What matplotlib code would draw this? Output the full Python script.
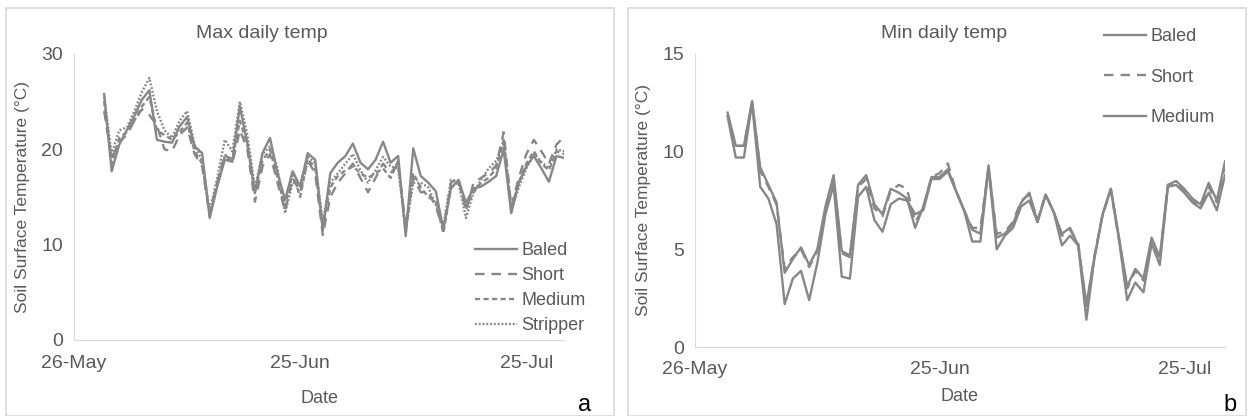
import numpy as np
import matplotlib
matplotlib.use("Agg")
import matplotlib.pyplot as plt
from matplotlib.patches import Rectangle

# daily dates, 30 May to 30 Jul
dates = np.arange(np.datetime64("2017-05-30"), np.datetime64("2017-07-31"))
tick_dates = np.array(["2017-05-26", "2017-06-25", "2017-07-25"], dtype="datetime64[D]")
tick_labels = ["26-May", "25-Jun", "25-Jul"]

# panel a: max daily temp
max_baled = [25.8, 17.7, 20.5, 22.0, 23.5, 25.2, 26.2, 21.0, 20.8, 20.7, 22.4, 23.4, 20.3, 19.6,
             12.8, 16.1, 18.9, 18.7, 24.5, 20.6, 15.4, 19.6, 21.2, 17.5, 14.7, 17.7, 16.1, 19.6,
             18.9, 11.5, 17.5, 18.6, 19.3, 20.6, 18.6, 17.9, 18.9, 20.8, 18.6, 19.3, 10.9, 20.1,
             17.2, 16.5, 15.6, 11.6, 15.9, 16.8, 14.4, 15.9, 16.1, 16.6, 17.2, 20.0, 13.3, 16.5,
             18.2, 19.3, 18.0, 16.6, 19.3, 19.1]
max_short = [24.0, 19.0, 20.8, 21.5, 23.0, 24.2, 23.6, 22.5, 20.0, 19.8, 21.5, 22.3, 19.5, 18.2,
             13.0, 16.5, 19.5, 18.5, 22.0, 20.0, 14.5, 18.2, 19.5, 16.5, 13.5, 17.0, 15.5, 18.8,
             17.5, 11.0, 15.0, 16.5, 17.5, 18.5, 17.0, 15.5, 17.0, 18.5, 17.5, 18.5, 12.0, 17.0,
             15.5, 15.5, 14.0, 11.5, 16.5, 17.0, 13.5, 16.5, 17.0, 17.5, 18.3, 21.8, 14.0, 17.0,
             19.5, 21.0, 19.8, 18.5, 20.5, 21.3]
max_medium = [25.0, 18.5, 21.2, 21.8, 23.0, 24.5, 25.5, 22.0, 21.5, 21.0, 21.8, 22.8, 19.8, 18.5,
              13.2, 16.5, 19.3, 19.0, 23.0, 20.5, 15.5, 18.8, 20.0, 17.0, 14.0, 17.5, 15.0, 19.0,
              18.0, 11.8, 16.0, 17.2, 17.8, 18.2, 17.5, 17.0, 17.5, 18.0, 17.0, 18.8, 11.5, 17.5,
              16.0, 15.0, 14.5, 11.2, 16.0, 16.5, 14.0, 15.5, 16.5, 17.0, 18.0, 21.0, 13.8, 16.5,
              18.5, 19.8, 18.5, 17.8, 19.8, 19.5]
max_stripper = [25.5, 19.5, 22.0, 22.3, 24.0, 26.0, 27.5, 24.0, 22.0, 21.2, 23.0, 24.0, 20.5, 18.8,
                13.5, 17.0, 21.0, 19.8, 25.0, 21.5, 16.0, 19.5, 20.3, 18.0, 13.3, 16.5, 16.3, 19.3,
                18.5, 12.5, 16.5, 17.5, 18.5, 19.5, 17.8, 16.5, 17.8, 19.2, 18.2, 18.0, 11.5, 16.5,
                16.5, 16.0, 14.2, 12.0, 16.8, 16.5, 12.8, 15.5, 16.8, 18.0, 18.8, 20.5, 13.5, 16.0,
                18.0, 19.5, 18.7, 18.0, 20.0, 19.8]

# panel b: min daily temp
min_baled = [12.0, 10.3, 10.3, 12.6, 9.2, 8.3, 7.4, 3.8, 4.5, 5.1, 4.2, 5.0, 7.2, 8.8, 4.9, 4.7,
             8.3, 8.8, 7.3, 6.8, 8.1, 7.9, 7.6, 6.1, 7.2, 8.7, 8.7, 9.1, 8.0, 7.0, 6.0, 5.8, 9.3,
             5.6, 5.8, 6.3, 7.4, 7.9, 6.4, 7.8, 6.9, 5.8, 6.1, 5.2, 2.2, 4.6, 6.8, 8.1, 5.6, 3.1,
             4.0, 3.5, 5.6, 4.6, 8.3, 8.5, 8.1, 7.6, 7.3, 8.4, 7.5, 9.5]
min_short = [11.9, 10.3, 10.3, 12.5, 9.0, 8.2, 7.3, 4.0, 4.6, 5.0, 4.1, 4.9, 7.0, 8.5, 4.8, 4.6,
             8.2, 8.6, 7.1, 6.7, 8.0, 8.3, 8.1, 6.4, 7.1, 8.7, 8.9, 9.4, 8.0, 7.0, 6.1, 6.1, 9.1,
             5.8, 5.9, 6.4, 7.5, 7.8, 6.5, 7.8, 6.9, 5.7, 6.0, 5.3, 2.0, 4.7, 6.8, 8.0, 5.5, 3.0,
             3.9, 3.4, 5.4, 4.5, 8.3, 8.4, 8.0, 7.5, 7.2, 8.2, 7.4, 9.3]
min_medium = [11.8, 9.7, 9.7, 12.5, 8.2, 7.6, 6.3, 2.2, 3.5, 3.9, 2.4, 4.3, 6.8, 8.3, 3.6, 3.5,
              7.7, 8.2, 6.5, 5.9, 7.3, 7.6, 7.5, 6.8, 7.0, 8.6, 8.6, 9.0, 8.0, 7.0, 5.4, 5.4, 9.2,
              5.0, 5.7, 6.1, 7.2, 7.5, 6.4, 7.8, 6.9, 5.2, 5.7, 5.2, 1.4, 4.6, 6.8, 8.1, 5.5, 2.4,
              3.3, 2.8, 5.3, 4.2, 8.2, 8.3, 7.9, 7.4, 7.1, 7.9, 7.0, 8.8]

gray = "#878787"
text_gray = "#595959"
axis_gray = "#d9d9d9"

plt.rcParams["font.family"] = ["Liberation Sans", "DejaVu Sans"]

fig = plt.figure(figsize=(12.48, 4.16), dpi=100)

# panel borders
fig.patches.append(Rectangle((6 / 1248, 0.0), 608 / 1248, 1 - 8 / 416, transform=fig.transFigure,
                             fill=False, edgecolor=axis_gray, linewidth=1.2))
fig.patches.append(Rectangle((628 / 1248, 0.0), 618 / 1248, 1 - 8 / 416, transform=fig.transFigure,
                             fill=False, edgecolor=axis_gray, linewidth=1.2))

ax1 = fig.add_axes([74 / 1248, 1 - 340 / 416, 490 / 1248, 286 / 416])
ax2 = fig.add_axes([695 / 1248, 1 - 347 / 416, 530 / 1248, 293 / 416])

ax1.plot(dates, max_baled, color=gray, lw=1.7, ls="-", label="Baled")
ax1.plot(dates, max_short, color=gray, lw=1.7, ls=(0, (4, 3)), label="Short")
ax1.plot(dates, max_medium, color=gray, lw=1.7, ls=(0, (2.2, 1.4)), label="Medium")
ax1.plot(dates, max_stripper, color=gray, lw=1.7, ls=(0, (0.8, 0.8)), label="Stripper")

ax2.plot(dates, min_baled, color=gray, lw=1.7, ls="-", label="Baled")
ax2.plot(dates, min_short, color=gray, lw=1.7, ls=(0, (4, 3)), label="Short")
ax2.plot(dates, min_medium, color=gray, lw=1.7, ls="-", label="Medium")

for ax, ymax, step in [(ax1, 30, 10), (ax2, 15, 5)]:
    ax.set_xlim(np.datetime64("2017-05-26"), np.datetime64("2017-07-30"))
    ax.set_ylim(0, ymax)
    ax.set_yticks(np.arange(0, ymax + 1, step))
    ax.set_xticks(tick_dates)
    ax.set_xticklabels(tick_labels)
    for s in ["top", "right"]:
        ax.spines[s].set_visible(False)
    ax.spines["left"].set_color(axis_gray)
    ax.spines["bottom"].set_color(axis_gray)
    ax.tick_params(length=0, labelsize=14, labelcolor=text_gray, pad=8)
    ax.set_ylabel("Soil Surface Temperature (°C)", fontsize=12.5, color=text_gray, labelpad=8)

ax1.tick_params(axis="x", pad=11)
ax2.tick_params(axis="x", pad=10)
ax1.set_xlabel("Date", fontsize=13, color=text_gray, labelpad=13)
ax2.set_xlabel("Date", fontsize=13, color=text_gray, labelpad=7)

fig.text(262 / 1248, 1 - 33 / 416, "Max daily temp", ha="center", va="center", fontsize=14, color=text_gray)
fig.text(944 / 1248, 1 - 33 / 416, "Min daily temp", ha="center", va="center", fontsize=14, color=text_gray)

ax1.legend(loc="upper left", bbox_to_anchor=(466 / 1248, 1 - 233 / 416), bbox_transform=fig.transFigure,
           frameon=False, fontsize=13, labelcolor=text_gray, handlelength=2.3, handletextpad=0.25,
           labelspacing=0.45, borderpad=0)
ax2.legend(loc="upper left", bbox_to_anchor=(1095 / 1248, 1 - 19 / 416), bbox_transform=fig.transFigure,
           frameon=False, fontsize=13, labelcolor=text_gray, handlelength=2.3, handletextpad=0.25,
           labelspacing=1.3, borderpad=0)

fig.text(585 / 1248, 1 - 405 / 416, "a", ha="center", va="center", fontsize=17, color="black")
fig.text(1230 / 1248, 1 - 405 / 416, "b", ha="center", va="center", fontsize=17, color="black")

fig.savefig("out.png", dpi=100)
